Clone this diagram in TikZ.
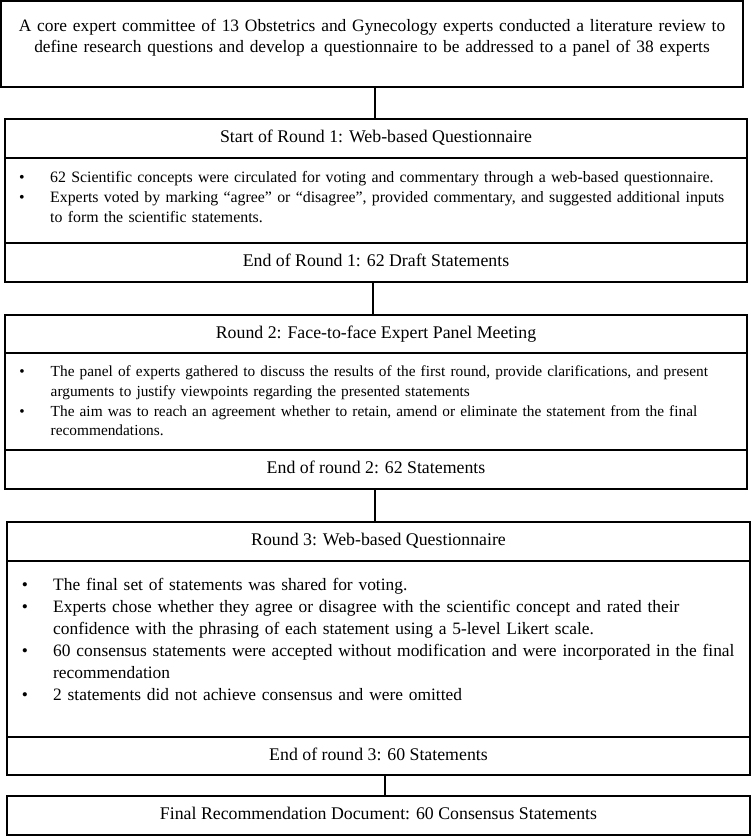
\documentclass[tikz,border=0pt]{standalone}
\usepackage{fontspec}
\setmainfont{Liberation Serif}
\usetikzlibrary{calc}
\begin{document}
\begin{tikzpicture}[x=1pt,y=-1pt,
  font=\fontsize{17.8pt}{21.6pt}\selectfont,
  frame/.style={draw=black, line width=1.2pt, inner sep=0pt},
  row/.style={frame, minimum height=#1, text height=12pt, text depth=4pt},
  item/.style={anchor=base west, inner sep=0pt, text width=700pt, align=left},
  dot/.style={anchor=base, inner sep=0pt},
  link/.style={draw=black, line width=1.2pt}
]
\useasboundingbox (0,0) rectangle (751,836);

% Box 1
\node[frame, minimum width=742pt, minimum height=86pt] (top) at (372,44) {};
\node[anchor=base, inner sep=0pt, text width=742pt, align=center,
      font=\fontsize{17.4pt}{21.6pt}\selectfont] (toptext) at (372,31)
  {A core expert committee of 13 Obstetrics and Gynecology experts conducted a literature review to\\
   define research questions and develop a questionnaire to be addressed to a panel of 38 experts};

% Round 1
\node[row=39pt, minimum width=742pt] (r1h) at (376,138.5) {Start of Round 1: Web-based Questionnaire};
\node[frame, minimum width=742pt, minimum height=85pt] (r1b) at (376,200.5) {};
\node[row=39pt, minimum width=742pt] (r1e) at (376,262.5) {End of Round 1: 62 Draft Statements};
\begin{scope}[font=\fontsize{15.85pt}{20pt}\selectfont]
\node[dot] (r1d1) at (22,182) {•};
\node[item] (r1i1) at (50,182) {62 Scientific concepts were circulated for voting and commentary through a web-based questionnaire.};
\node[dot] (r1d2) at (22,202) {•};
\node[item] (r1i2) at (50,202) {Experts voted by marking “agree” or “disagree”, provided commentary, and suggested additional inputs\\
  to form the scientific statements.};
\end{scope}

% Round 2
\node[row=38pt, minimum width=742pt] (r2h) at (376,334) {Round 2: Face-to-face Expert Panel Meeting};
\node[frame, minimum width=742pt, minimum height=97pt] (r2b) at (376,401.5) {};
\node[row=39pt, minimum width=742pt] (r2e) at (376,469.5) {End of round 2: 62 Statements};
\begin{scope}[font=\fontsize{15.35pt}{19.6pt}\selectfont]
\node[dot] (r2d1) at (22,376.5) {•};
\node[item] (r2i1) at (50.5,376.5) {The panel of experts gathered to discuss the results of the first round, provide clarifications, and present\\
  arguments to justify viewpoints regarding the presented statements};
\node[dot] (r2d2) at (22,416) {•};
\node[item] (r2i2) at (50.5,416) {The aim was to reach an agreement whether to retain, amend or eliminate the statement from the final\\
  recommendations.};
\end{scope}

% Round 3
\node[row=39pt, minimum width=743pt] (r3h) at (378.5,541.5) {Round 3: Web-based Questionnaire};
\node[frame, minimum width=743pt, minimum height=176pt] (r3b) at (378.5,649) {};
\node[row=38pt, minimum width=743pt] (r3e) at (378.5,756) {End of round 3: 60 Statements};
\begin{scope}[font=\fontsize{17.4pt}{22pt}\selectfont]
\node[dot] (r3d1) at (25,590) {•};
\node[item] (r3i1) at (53,590) {The final set of statements was shared for voting.};
\node[dot] (r3d2) at (25,612) {•};
\node[item] (r3i2) at (53,612) {Experts chose whether they agree or disagree with the scientific concept and rated their\\
  confidence with the phrasing of each statement using a 5-level Likert scale.};
\node[dot] (r3d3) at (25,656) {•};
\node[item] (r3i3) at (53,656) {60 consensus statements were accepted without modification and were incorporated in the final\\
  recommendation};
\node[dot] (r3d4) at (25,700) {•};
\node[item] (r3i4) at (53,700) {2 statements did not achieve consensus and were omitted};
\end{scope}

% Final
\node[row=39pt, minimum width=743pt] (fin) at (378.5,815.5) {Final Recommendation Document: 60 Consensus Statements};

% Connectors
\draw[link] ([xshift=-1pt]r1h.north) -- ([xshift=-1pt]r1h.north |- top.south);
\draw[link] ([xshift=-3pt]r1e.south) -- ([xshift=-3pt]r2h.north);
\draw[link] ([xshift=-1pt]r2e.south) -- ([xshift=-1pt]r2e.south |- r3h.north);
\draw[link] ([xshift=6.5pt]r3e.south) -- ([xshift=6.5pt]r3e.south |- fin.north);
\end{tikzpicture}
\end{document}
